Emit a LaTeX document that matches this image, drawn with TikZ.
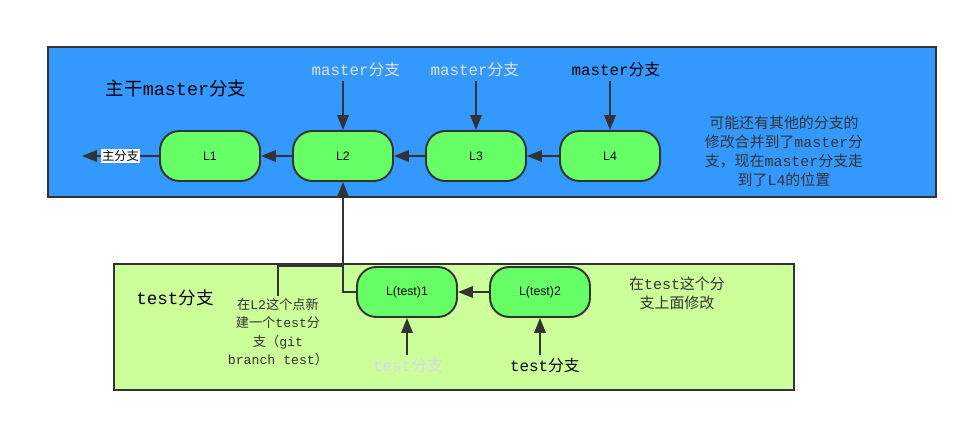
\documentclass[tikz,border=0pt]{standalone}
\usepackage{fontspec}
\setmainfont{Liberation Mono}
\newfontfamily\cjk{Noto Sans CJK SC}
\newfontfamily\arial{Liberation Sans}
\usetikzlibrary{arrows.meta}
\definecolor{trunkblue}{HTML}{3399FF}
\definecolor{testgreen}{HTML}{CCFF99}
\definecolor{commitgreen}{HTML}{66FF66}
\definecolor{edge}{HTML}{333333}
\definecolor{fadedtext}{HTML}{E0E0E0}
\definecolor{fadedtest}{HTML}{D8D8EE}
\begin{document}
\begin{tikzpicture}[x=0.02cm, y=-0.02cm,
    commit/.style={draw=edge, line width=1.1pt, fill=commitgreen, rounded corners=11pt, minimum width=2cm, minimum height=1cm, font=\arial\fontsize{7}{8}\selectfont},
    arr/.style={draw=edge, line width=1.1pt, -{Triangle[length=8.5pt, width=6.5pt]}},
    lbl/.style={font=\fontsize{9}{11}\selectfont, inner sep=2pt},
    note/.style={align=center, text=black!80, inner sep=1pt}]
        \useasboundingbox (0,0) rectangle (968,423);
        
        \filldraw[draw=edge, line width=1.1pt, fill=trunkblue] (48,47) rectangle (936,197);
        \filldraw[draw=edge, line width=1.1pt, fill=testgreen] (114,264) rectangle (794,390);
        
        \node[font=\fontsize{10.5}{12}\selectfont] (trunk) at (176,89) {{\cjk 主干}master{\cjk 分支}};
        \node[font=\fontsize{10}{12}\selectfont] (testtitle) at (175,298) {test{\cjk 分支}};
        
        \node[commit] (L1) at (210,156) {L1};
        \node[commit] (L2) at (343,156) {L2};
        \node[commit] (L3) at (476,156) {L3};
        \node[commit] (L4) at (610,156) {L4};
        \node[commit] (T1) at (407,292) {L(test)1};
        \node[commit] (T2) at (540,292) {L(test)2};
        
        \node[lbl, text=fadedtext] (m2) at (356,70) {master{\cjk 分支}};
        \node[lbl, text=fadedtext] (m3) at (475,70) {master{\cjk 分支}};
        \node[lbl] (m4) at (616,70) {master{\cjk 分支}};
        \node[lbl, text=fadedtest] (t1) at (408,366) {test{\cjk 分支}};
        \node[lbl] (t2) at (545,366) {test{\cjk 分支}};
        
        \draw[arr] (m2.south -| L2.north) -- (L2.north);
        \draw[arr] (m3.south -| L3.north) -- (L3.north);
        \draw[arr] (m4.south -| L4.north) -- (L4.north);
        \draw[arr] (t1.north -| T1.south) -- (T1.south);
        \draw[arr] (t2.north -| T2.south) -- (T2.south);
        
        \coordinate (tip) at (82,156);
        \draw[arr] (L1.west) -- (tip) node[midway, fill=white, inner sep=0.5pt, font=\cjk\fontsize{7}{8}\selectfont] (main) {主分支};
        \draw[arr] (L2.west) -- (L1.east);
        \draw[arr] (L3.west) -- (L2.east);
        \draw[arr] (L4.west) -- (L3.east);
        \draw[arr] (T2.west) -- (T1.east);
        \draw[arr] (T1.west) -| (L2.south);
        
        \node[note, font=\fontsize{8.5}{10.8}\selectfont] (n1) at (784,151) {{\cjk 可能还有其他的分支的}\\{\cjk 修改合并到了}master{\cjk 分}\\{\cjk 支，现在}master{\cjk 分支走}\\{\cjk 到了}L4{\cjk 的位置}};
        \node[note, font=\fontsize{7.5}{10.4}\selectfont] (n2) at (278,332) {{\cjk 在}L2{\cjk 这个点新}\\{\cjk 建一个}test{\cjk 分}\\{\cjk 支（}git\\branch test{\cjk ）}};
        \node[note, font=\fontsize{8.5}{10.8}\selectfont] (n3) at (677,293) {{\cjk 在}test{\cjk 这个分}\\{\cjk 支上面修改}};
        
        \coordinate (fork) at (343,266);
        \draw[draw=edge, line width=1.1pt] (n2.north) |- (fork);
    \end{tikzpicture}
\end{document}
